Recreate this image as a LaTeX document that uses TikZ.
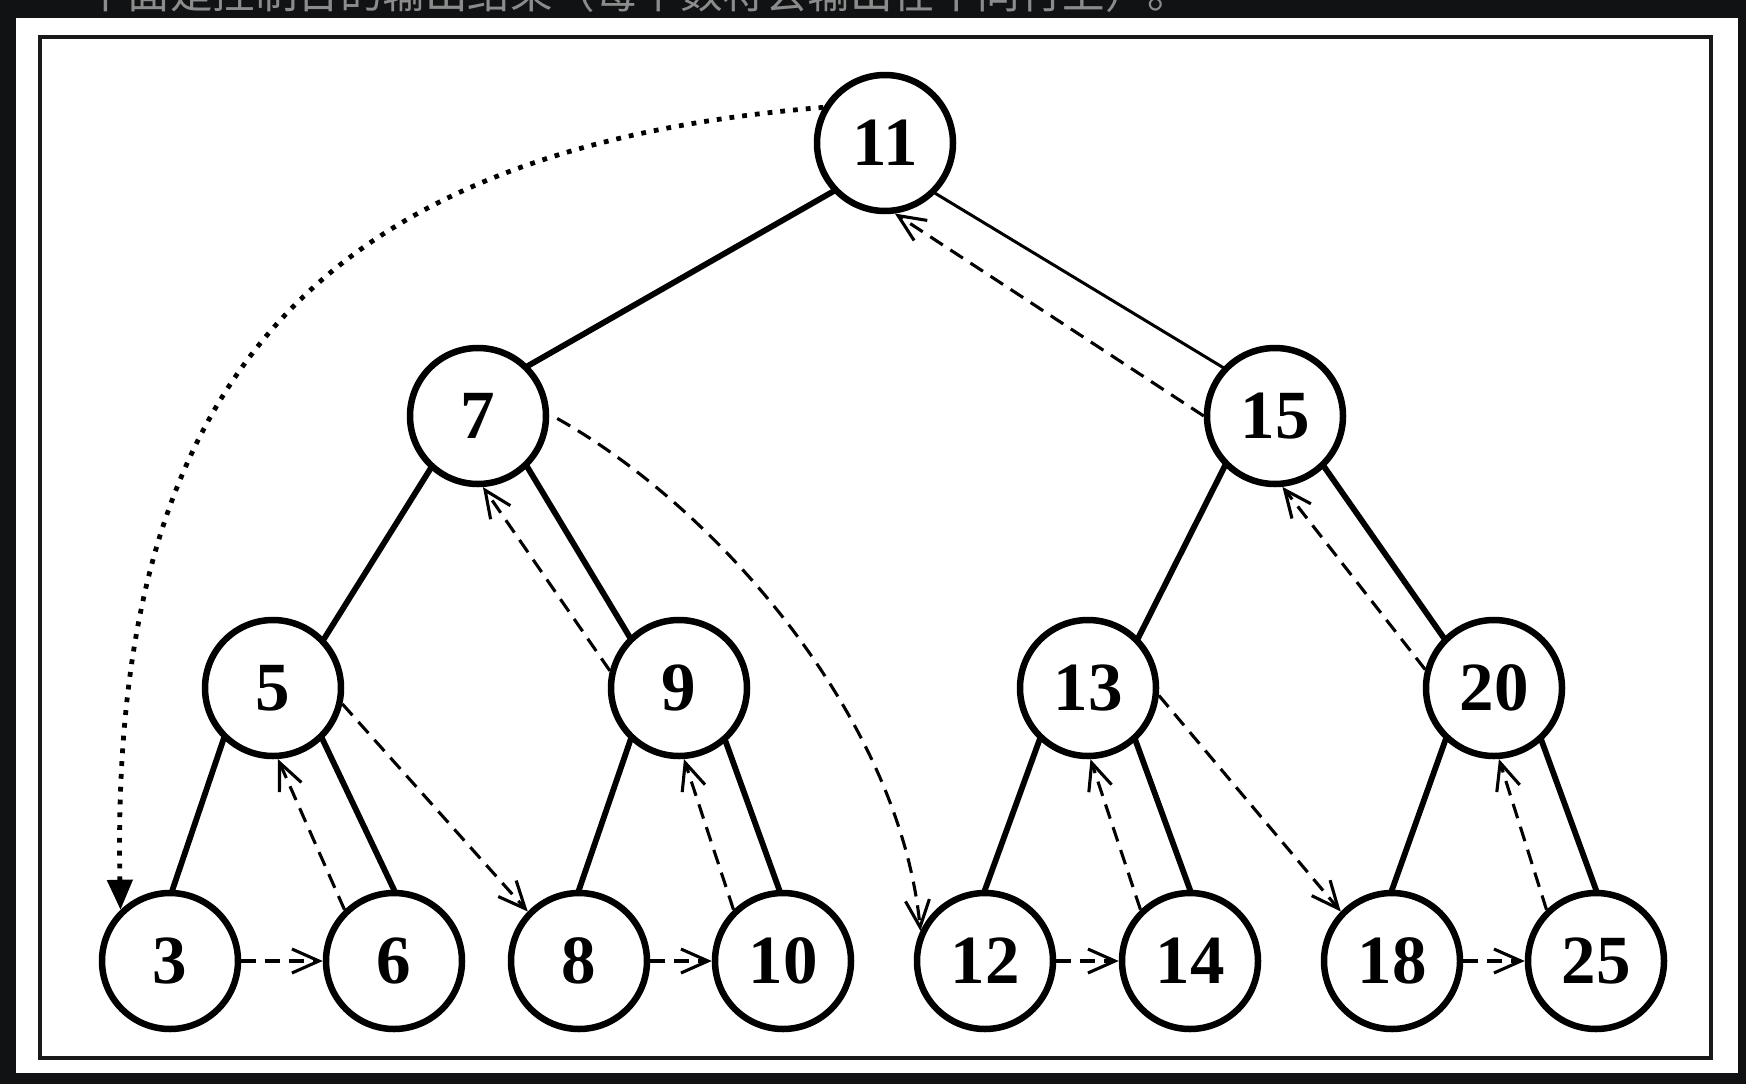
\documentclass[tikz,border=0pt]{standalone}
\usepackage{fontspec}
\setmainfont{Liberation Serif}
\newfontfamily\cjkfont{Noto Sans CJK SC}
\usetikzlibrary{arrows.meta}
\pgfdeclarelayer{bg}
\pgfsetlayers{bg,main}
\definecolor{darkbg}{RGB}{17,18,20}
\definecolor{capgray}{RGB}{140,140,140}
\begin{document}
\begin{tikzpicture}[x=1pt,y=-1pt,
  tnode/.style={circle,draw=black,line width=6.5pt,fill=white,minimum size=136pt,inner sep=0pt,
    font=\fontsize{69}{69}\selectfont\bfseries},
  treeedge/.style={line width=5.8pt,shorten <=-3pt,shorten >=-3pt},
  thinedge/.style={line width=3pt,shorten <=-3pt,shorten >=-3pt},
  thread/.style={line width=3.1pt,dash pattern=on 15pt off 9pt,
    -{Straight Barb[length=27pt,width=24pt]}},
  jump/.style={line width=4.8pt,dash pattern=on 4.8pt off 8pt,
    -{Triangle[length=30pt,width=25pt]}},
  caption/.style={anchor=base west,text=capgray,inner sep=0pt,
    font=\cjkfont\fontsize{42.5}{42.5}\selectfont}
]
\useasboundingbox (0,0) rectangle (1746,1084);
\begin{pgfonlayer}{bg}
  \fill[darkbg] (0,0) rectangle (1746,1084);
  \fill[white] (16,18) rectangle (1738,1073);
  \draw[line width=4.5pt,black!90] (40,37) rectangle (1711,1058);
\end{pgfonlayer}

\begin{scope}
  \clip (0,0) rectangle (1746,18);
  \node[caption] (cap) at (85,9) {下面是控制台的输出结果（每个数将会输出在不同行上）。};
\end{scope}

% nodes
\node[tnode] (n11) at (885,143) {11};
\node[tnode] (n7)  at (478,416) {7};
\node[tnode] (n15) at (1275,416) {15};
\node[tnode] (n5)  at (273,688) {5};
\node[tnode] (n9)  at (679,688) {9};
\node[tnode] (n13) at (1088,688) {13};
\node[tnode] (n20) at (1494,688) {20};
\node[tnode] (n3)  at (170,961) {3};
\node[tnode] (n6)  at (394,961) {6};
\node[tnode] (n8)  at (579,961) {8};
\node[tnode] (n10) at (783,961) {10};
\node[tnode] (n12) at (985,961) {12};
\node[tnode] (n14) at (1190,961) {14};
\node[tnode] (n18) at (1392,961) {18};
\node[tnode] (n25) at (1596,961) {25};

% tree edges
\begin{pgfonlayer}{bg}
  \draw[treeedge] (n11.-137) -- (n7.45);
  \draw[thinedge] (n11.-45) -- (n15.137);
  \draw[treeedge] (n7.-132) -- (n5.44);
  \draw[treeedge] (n7.-46) -- (n9.134);
  \draw[treeedge] (n15.-135) -- (n13.45);
  \draw[treeedge] (n15.-46) -- (n20.135);
  \draw[treeedge] (n5.-134) -- (n3.88);
  \draw[treeedge] (n5.-46) -- (n6.north);
  \draw[treeedge] (n9.-133) -- (n8.north);
  \draw[treeedge] (n9.-49) -- (n10.93);
  \draw[treeedge] (n13.-133) -- (n12.north);
  \draw[treeedge] (n13.-48) -- (n14.north);
  \draw[treeedge] (n20.-133) -- (n18.north);
  \draw[treeedge] (n20.-48) -- (n25.north);
\end{pgfonlayer}

% threads back to parents
\draw[thread] (n15.west) -- (n11.-82);
\draw[thread] (n20.165) -- (n15.-84);
\draw[thread] (n9.166) -- (n7.-86);
\draw[thread] (n6.134) -- (n5.-86);
\draw[thread] (n10.134) -- (n9.-86);
\draw[thread] (n14.134) -- (n13.-88);
\draw[thread] (n25.134) -- (n20.-86);

% forward threads
\draw[thread] (n3.east) -- (n6.west);
\draw[thread] (n8.east) -- (n10.west);
\draw[thread] (n12.east) -- (n14.west);
\draw[thread] (n18.east) -- (n25.west);
\draw[thread] (n5.-13) -- (n8.136);
\draw[thread] (n13.-6) -- (n18.136);
\draw[thread] ([xshift=8pt]n7.-2) .. controls (720,510) and (900,720) .. (n12.155);

% dotted jump
\draw[jump] (n11.150) .. controls (300,150) and (110,400) .. (n3.134);
\end{tikzpicture}
\end{document}
